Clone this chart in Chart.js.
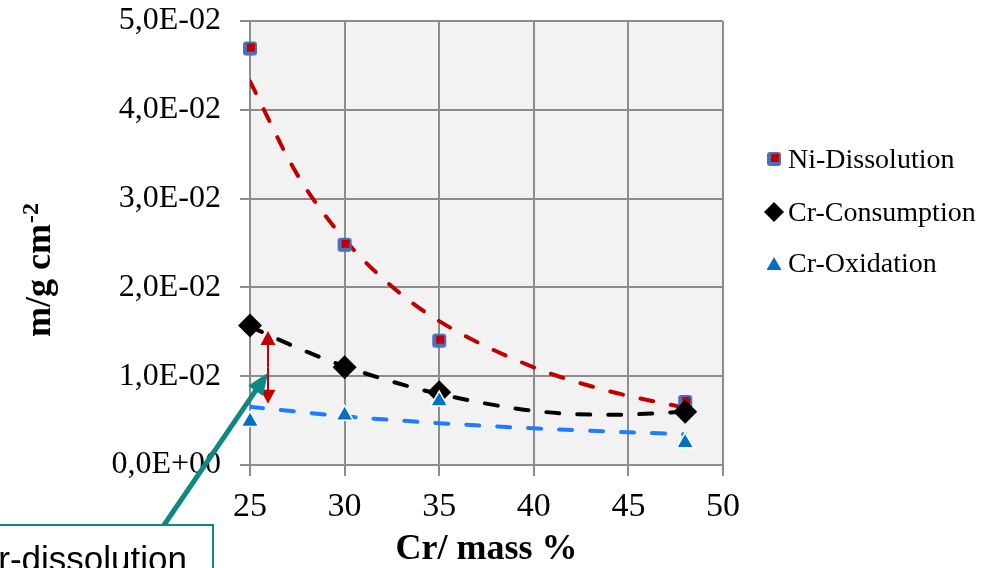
<!DOCTYPE html>
<html>
<head>
<meta charset="utf-8">
<script src="https://cdn.jsdelivr.net/npm/chart.js@4/dist/chart.umd.min.js"></script>
<style>
  html, body { margin: 0; padding: 0; background: #fff; }
  #wrap { width: 994px; height: 568px; }
</style>
</head>
<body>
<div id="wrap"><canvas id="myChart" width="994" height="568"></canvas></div>
<script>
let crMass = [25, 30, 35, 48];
let niDissolution = [0.0469, 0.0248, 0.0140, 0.0071];
let crConsumption = [0.0157, 0.0110, 0.0082, 0.0060];
let crOxidation = [0.0049, 0.0056, 0.0072, 0.0025];

// dashed trend lines
let trendX = [25, 27.5, 30, 32.5, 35, 40, 44, 48];
let niTrend = [0.0432, 0.0327, 0.0254, 0.0201, 0.0162, 0.0110, 0.0083, 0.00645];
let crConsTrend = [0.0156, 0.0132, 0.0111, 0.0094, 0.0080, 0.0061, 0.00565, 0.0060];
let crOxTrend = [0.00655, 0.0060, 0.00548, 0.00507, 0.00471, 0.00413, 0.00377, 0.00346];

let seriesNames = ['Ni-Dissolution', 'Cr-Consumption', 'Cr-Oxidation'];
let xTitle = 'Cr/ mass %';
let yTitle = 'm/g cm';
let ySup = '-2';
let boxText = 'Cr-dissolution';

const serif = '"Liberation Serif", "Times New Roman", serif';
const teal = '#0f8782';
const darkRed = '#c00000';

function pts(xs, ys) {
    return xs.map((x, i) => ({ x: x, y: ys[i] }));
}

// blue square with small red square on top (Ni marker)
let niMark = document.createElement('canvas');
niMark.width = 16;
niMark.height = 16;
let mc = niMark.getContext('2d');
mc.fillStyle = '#4a6fbe';
mc.beginPath();
if (mc.roundRect) mc.roundRect(1, 1, 14, 14, 3); else mc.rect(1, 1, 14, 14);
mc.fill();
mc.fillStyle = darkRed;
mc.fillRect(5, 3, 8, 8);

function fmtSci(v) {
    if (Math.abs(v) < 1e-12) return '0,0E+00';
    let s = v.toExponential(1).split('e');
    let e = parseInt(s[1], 10);
    let es = (e < 0 ? '-' : '+') + String(Math.abs(e)).padStart(2, '0');
    return s[0].replace('.', ',') + 'E' + es;
}

function drawArrow(ctx, x1, y1, x2, y2, headLen, headW, color, lw) {
    let a = Math.atan2(y2 - y1, x2 - x1);
    let c = Math.cos(a), s = Math.sin(a);
    ctx.strokeStyle = color;
    ctx.fillStyle = color;
    ctx.lineWidth = lw;
    ctx.lineCap = 'butt';
    ctx.beginPath();
    ctx.moveTo(x1, y1);
    ctx.lineTo(x2 - c * headLen * 0.8, y2 - s * headLen * 0.8);
    ctx.stroke();
    let bx = x2 - c * headLen, by = y2 - s * headLen;
    ctx.beginPath();
    ctx.moveTo(x2, y2);
    ctx.lineTo(bx - s * headW / 2, by + c * headW / 2);
    ctx.lineTo(bx + s * headW / 2, by - c * headW / 2);
    ctx.closePath();
    ctx.fill();
}

const plotBg = {
    id: 'plotBg',
    beforeDraw(chart) {
        let a = chart.chartArea, ctx = chart.ctx;
        ctx.save();
        ctx.fillStyle = '#f2f2f2';
        ctx.fillRect(a.left, a.top, a.right - a.left, a.bottom - a.top);
        ctx.restore();
    }
};

const extras = {
    id: 'extras',
    afterDraw(chart) {
        let ctx = chart.ctx;
        let xs = chart.scales.x, ys = chart.scales.y;
        ctx.save();

        // red double arrow
        let rx = xs.getPixelForValue(25.95);
        let rTop = ys.getPixelForValue(0.0151);
        let rBot = ys.getPixelForValue(0.0069);
        let mid = (rTop + rBot) / 2;
        drawArrow(ctx, rx, mid, rx, rTop, 14, 15, darkRed, 2);
        drawArrow(ctx, rx, mid, rx, rBot, 14, 15, darkRed, 2);

        // teal arrow from the text box
        let tx = xs.getPixelForValue(25.95);
        let ty = ys.getPixelForValue(0.0104);
        drawArrow(ctx, 162, 528, tx, ty, 22, 18, teal, 5);

        // text box (cut by the picture edge)
        ctx.fillStyle = '#fff';
        ctx.fillRect(-10, 525, 223, 60);
        ctx.strokeStyle = teal;
        ctx.lineWidth = 2;
        ctx.strokeRect(-10, 525, 223, 60);
        ctx.fillStyle = '#000';
        ctx.font = '35px "Liberation Sans", Arial, sans-serif';
        ctx.textBaseline = 'alphabetic';
        ctx.textAlign = 'left';
        ctx.fillText(boxText, -27, 571);

        // y title with superscript
        ctx.save();
        ctx.translate(50, 337);
        ctx.rotate(-Math.PI / 2);
        ctx.font = 'bold 36px ' + serif;
        ctx.fillText(yTitle, 0, 0);
        let w = ctx.measureText(yTitle).width;
        ctx.font = 'bold 24px ' + serif;
        ctx.fillText(ySup, w + 1, -12);
        ctx.restore();

        // legend
        let lx = 774;
        let ly = [159, 212, 264];
        ctx.drawImage(niMark, lx - 8, ly[0] - 8);
        ctx.fillStyle = '#000';
        ctx.beginPath();
        ctx.moveTo(lx, ly[1] - 10);
        ctx.lineTo(lx + 10, ly[1]);
        ctx.lineTo(lx, ly[1] + 10);
        ctx.lineTo(lx - 10, ly[1]);
        ctx.closePath();
        ctx.fill();
        ctx.fillStyle = '#0070c0';
        ctx.beginPath();
        ctx.moveTo(lx, ly[2] - 7);
        ctx.lineTo(lx + 7.5, ly[2] + 6);
        ctx.lineTo(lx - 7.5, ly[2] + 6);
        ctx.closePath();
        ctx.fill();
        ctx.fillStyle = '#000';
        ctx.font = '28px ' + serif;
        let base = [168, 221, 272];
        for (let i = 0; i < seriesNames.length; i++) {
            ctx.fillText(seriesNames[i], 788, base[i]);
        }
        ctx.restore();
    }
};

let myChart1 = document.getElementById('myChart').getContext('2d');

let chart1 = new Chart(myChart1, {
    type: 'scatter',
    data: {
        datasets: [
            {
                label: seriesNames[0],
                data: pts(crMass, niDissolution),
                pointStyle: niMark,
                pointRadius: 8,
                clip: false,
                order: 3
            },
            {
                label: seriesNames[1],
                data: pts(crMass, crConsumption),
                pointStyle: 'rectRot',
                pointRadius: 12,
                backgroundColor: '#000',
                borderColor: '#000',
                borderWidth: 0,
                clip: false,
                order: 2
            },
            {
                label: seriesNames[2],
                data: pts(crMass, crOxidation),
                pointStyle: 'triangle',
                pointRadius: 10,
                backgroundColor: '#0070c0',
                borderColor: '#fff',
                borderWidth: 1.5,
                clip: false,
                order: 1
            },
            {
                label: 'Ni trend',
                data: pts(trendX, niTrend),
                showLine: true,
                pointRadius: 0,
                borderColor: darkRed,
                borderWidth: 4,
                borderDash: [13, 18],
                borderCapStyle: 'round',
                cubicInterpolationMode: 'monotone',
                order: 6
            },
            {
                label: 'Cr-Consumption trend',
                data: pts(trendX, crConsTrend),
                showLine: true,
                pointRadius: 0,
                borderColor: '#000',
                borderWidth: 4,
                borderDash: [13, 18],
                borderCapStyle: 'round',
                cubicInterpolationMode: 'monotone',
                order: 5
            },
            {
                label: 'Cr-Oxidation trend',
                data: pts(trendX, crOxTrend),
                showLine: true,
                pointRadius: 0,
                borderColor: '#1f7bff',
                borderWidth: 4,
                borderDash: [13, 18],
                borderCapStyle: 'round',
                cubicInterpolationMode: 'monotone',
                order: 4
            }
        ]
    },
    options: {
        responsive: false,
        animation: false,
        events: [],
        layout: {
            padding: { left: 0, top: 21, right: 271, bottom: 0 }
        },
        plugins: {
            legend: { display: false },
            tooltip: { enabled: false },
            title: { display: false }
        },
        scales: {
            x: {
                type: 'linear',
                min: 25,
                max: 50,
                afterFit(scale) {
                    scale.height = 103;
                    scale.paddingLeft = 0;
                    scale.paddingRight = 0;
                },
                ticks: {
                    stepSize: 5,
                    color: '#000',
                    padding: 11,
                    maxRotation: 0,
                    font: { family: serif, size: 34 }
                },
                grid: { color: '#8c8c8c', lineWidth: 2, tickLength: 11 },
                border: { color: '#8c8c8c', width: 2 },
                title: {
                    display: true,
                    text: xTitle,
                    color: '#000',
                    padding: { top: 0, bottom: 0 },
                    font: { family: serif, size: 36, weight: 'bold', lineHeight: 1 }
                }
            },
            y: {
                min: 0,
                max: 0.05,
                afterFit(scale) {
                    scale.width = 250;
                    scale.paddingTop = 0;
                    scale.paddingBottom = 0;
                },
                ticks: {
                    stepSize: 0.01,
                    color: '#000',
                    padding: 19,
                    font: { family: serif, size: 32 },
                    callback: (v) => fmtSci(v)
                },
                grid: { color: '#8c8c8c', lineWidth: 2, tickLength: 10 },
                border: { color: '#8c8c8c', width: 2 }
            }
        }
    },
    plugins: [plotBg, extras]
});
</script>
</body>
</html>
